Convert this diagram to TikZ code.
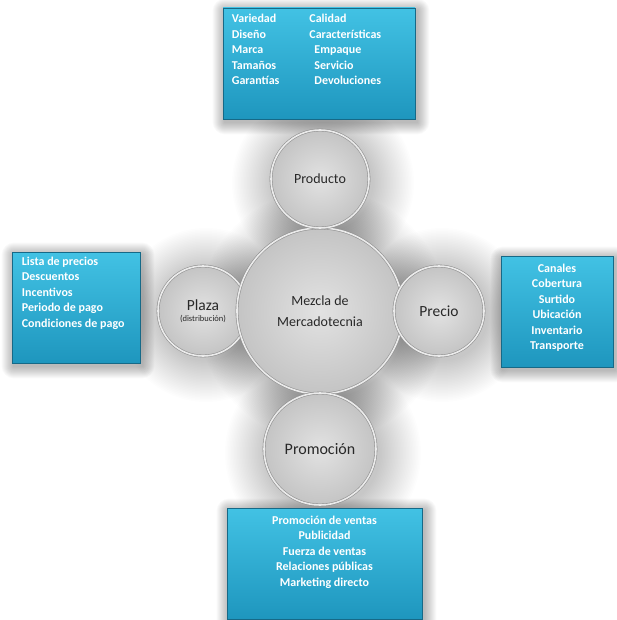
\documentclass[tikz,border=0pt]{standalone}
\usepackage{fontspec}
\setmainfont{Carlito}
\usetikzlibrary{positioning,backgrounds,calc}

\definecolor{boxtop}{RGB}{66,194,228}
\definecolor{boxbot}{RGB}{30,150,190}
\definecolor{boxedge}{RGB}{22,105,135}
\definecolor{ballin}{RGB}{226,226,226}
\definecolor{ballout}{RGB}{196,196,196}
\definecolor{balledge}{RGB}{145,145,145}
\definecolor{inktext}{RGB}{40,40,40}

% soft shadows, drawn as stacked faint copies
\newcommand{\ballshadow}[2]{%
  \foreach \k in {1,...,28}
    \fill[black,opacity=0.009] ($(#1.center)+(3,4)$) circle[radius=#2pt+1.5pt*\k];
}
\newcommand{\boxshadow}[1]{%
  \foreach \k in {1,...,12}
    \fill[black,opacity=0.022,rounded corners=\k pt]
      ($(#1.north west)+(-\k+2,-\k+3)$) rectangle ($(#1.south east)+(\k+2,\k+3)$);
}

\begin{document}
\begin{tikzpicture}[x=1pt,y=-1pt,
  ball/.style={circle,draw=balledge,line width=0.6pt,double=white!92!black,
    double distance=1.6pt,inner color=ballin,outer color=ballout,
    text=inktext,inner sep=0pt},
  listbox/.style={rectangle,draw=boxedge,line width=0.6pt,top color=boxtop,
    bottom color=boxbot,minimum height=111pt,inner sep=0pt},
  listtext/.style={text=white,font=\bfseries\fontsize{12}{15.5}\selectfont,
    inner sep=0pt}]
  \useasboundingbox (0,0) rectangle (617,620);

  % boxes
  \node[listbox,minimum width=192pt] (productobox) at (319,63.5) {};
  \node[listbox,minimum width=128pt] (preciobox) at (76,307.5) {};
  \node[listbox,minimum width=112pt] (plazabox) at (557,311.5) {};
  \node[listbox,minimum width=195pt] (promocionbox) at (324.5,563.5) {};

  \node[listtext,anchor=north west] (productolist)
    at ($(productobox.north west)+(9,4)$)
    {\begin{tabular}{@{}l@{\hspace{30pt}}l@{}}
      Variedad & Calidad\\
      Diseño & Características\\
      Marca & \hspace{5pt}Empaque\\
      Tamaños & \hspace{5pt}Servicio\\
      Garantías & \hspace{5pt}Devoluciones
    \end{tabular}};
  \node[listtext,anchor=north west,align=left] (preciolist)
    at ($(preciobox.north west)+(10,5)$)
    {Lista de precios\\Descuentos\\Incentivos\\Periodo de pago\\Condiciones de pago};
  \node[listtext,align=center,below=8pt of plazabox.north] (plazalist)
    {Canales\\Cobertura\\Surtido\\Ubicación\\Inventario\\Transporte};
  \node[listtext,align=center,below=8pt of promocionbox.north] (promocionlist)
    {Promoción de ventas\\Publicidad\\Fuerza de ventas\\Relaciones públicas\\Marketing directo};

  % circles
  \node[ball,minimum size=90pt,align=center] (plaza) at (203,311)
    {{\fontsize{15.5}{16}\selectfont Plaza}\\[-1pt]{\fontsize{8.5}{10}\selectfont (distribución)}};
  \node[ball,minimum size=166pt,align=center,font=\fontsize{14}{21}\selectfont]
    (mezcla) at (320,311) {Mezcla de\\Mercadotecnia};
  \node[ball,minimum size=98pt,font=\fontsize{14}{15}\selectfont] (producto) at (320,179) {Producto};
  \node[ball,minimum size=90pt,font=\fontsize{15.5}{16}\selectfont] (precio) at (439,311) {Precio};
  \node[ball,minimum size=112pt,font=\fontsize{16}{16}\selectfont] (promocion) at (320,449) {Promoción};

  \begin{scope}[on background layer]
    \fill[white] (0,0) rectangle (617,620);
    \ballshadow{mezcla}{83}
    \ballshadow{producto}{49}
    \ballshadow{plaza}{45}
    \ballshadow{precio}{45}
    \ballshadow{promocion}{56}
    \boxshadow{productobox}
    \boxshadow{preciobox}
    \boxshadow{plazabox}
    \boxshadow{promocionbox}
  \end{scope}
\end{tikzpicture}
\end{document}
